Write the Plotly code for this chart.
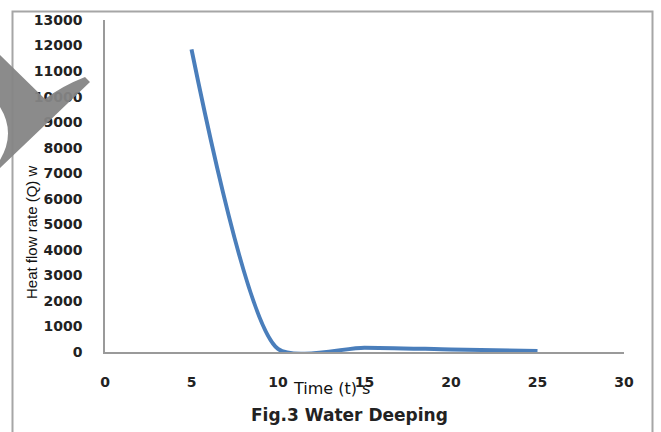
import plotly.graph_objects as go

# Data
time_s = [5, 10, 15, 20, 25]
heat_flow_w = [11850, 120, 170, 100, 40]

x_ticks = [0, 5, 10, 15, 20, 25, 30]
y_ticks = [0, 1000, 2000, 3000, 4000, 5000, 6000, 7000, 8000, 9000, 10000, 11000, 12000, 13000]

W, H = 661, 432
L, R, T, B = 105, 37, 20, 80
PW, PH = W - L - R, H - T - B


def px(x):
    return (x - L) / PW


def py(y):
    return 1 - (y - T) / PH


fig = go.Figure()
fig.add_trace(go.Scatter(
    x=time_s, y=heat_flow_w, mode="lines",
    line=dict(color="#4a7ebb", width=4, shape="spline", smoothing=0.65),
    showlegend=False, hoverinfo="x+y",
))

tick_font = dict(family="DejaVu Sans", size=14, color="#222222", weight="bold")

fig.update_layout(
    width=W, height=H,
    margin=dict(l=L, r=R, t=T, b=B),
    paper_bgcolor="white", plot_bgcolor="white",
    xaxis=dict(range=[0, 30], tickvals=x_ticks, tickformat="d", showgrid=False, zeroline=False,
               showline=True, linecolor="#9a9a9a", linewidth=1.5, ticks="",
               tickfont=tick_font, ticklabelstandoff=16),
    yaxis=dict(range=[0, 13000], tickvals=y_ticks, tickformat="d", showgrid=False, zeroline=False,
               showline=True, linecolor="#9a9a9a", linewidth=1.5, ticks="",
               tickfont=tick_font, ticklabelstandoff=18),
)

# outer chart border (bottom edge outside the picture)
fig.add_shape(type="path", xref="paper", yref="paper",
              path=f"M {px(12.5)} {py(445)} L {px(12.5)} {py(11.5)} L {px(652.5)} {py(11.5)} L {px(652.5)} {py(445)}",
              line=dict(color="#a6a6a6", width=2), layer="below")

# grey chevron decoration at top-left
pts = (f"M {px(-5)} {py(50)} L {px(0)} {py(55)} L {px(45)} {py(99)} "
       f"Q {px(62)} {py(86)} {px(85)} {py(77)} L {px(90)} {py(82)} "
       f"L {px(0)} {py(168)} L {px(0)} {py(160)} "
       f"Q {px(16)} {py(133)} {px(0)} {py(107)} L {px(-5)} {py(107)} Z")
fig.add_shape(type="path", xref="paper", yref="paper", path=pts,
              fillcolor="#858585", line=dict(width=0), layer="above", opacity=0.95)

# axis titles and caption
fig.add_annotation(text="Heat flow rate (Q) w", xref="paper", yref="paper",
                   x=px(32), y=py(232), xanchor="center", yanchor="middle",
                   textangle=-90, showarrow=False,
                   font=dict(family="Liberation Sans", size=15, color="#111111"))
fig.add_annotation(text="Time (t) s", xref="paper", yref="paper",
                   x=px(331), y=py(388), xanchor="center", yanchor="middle", showarrow=False,
                   font=dict(family="DejaVu Sans", size=16, color="#111111"))
fig.add_annotation(text="Fig.3 Water Deeping", xref="paper", yref="paper",
                   x=px(349), y=py(415), xanchor="center", yanchor="middle", showarrow=False,
                   font=dict(family="DejaVu Sans", size=17, color="#222222", weight="bold"))

fig.write_html("out.html")
